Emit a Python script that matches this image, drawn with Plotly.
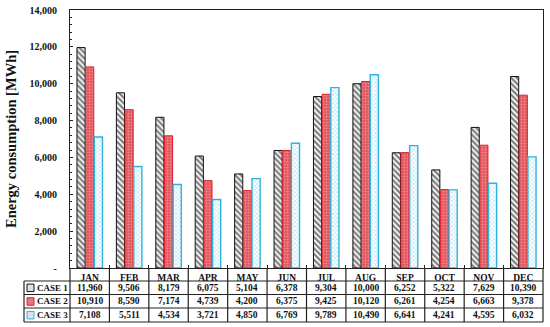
import plotly.graph_objects as go

months = ["JAN", "FEB", "MAR", "APR", "MAY", "JUN", "JUL", "AUG", "SEP", "OCT", "NOV", "DEC"]
case1 = [11960, 9506, 8179, 6075, 5104, 6378, 9304, 10000, 6252, 5322, 7629, 10390]
case2 = [10910, 8590, 7174, 4739, 4200, 6375, 9425, 10120, 6261, 4254, 6663, 9378]
case3 = [7108, 5511, 4534, 3721, 4850, 6769, 9789, 10490, 6641, 4241, 4595, 6032]
series_names = ["CASE 1", "CASE 2", "CASE 3"]
y_tickvals = [0, 2000, 4000, 6000, 8000, 10000, 12000, 14000]
y_ticktext = ["-", "2,000", "4,000", "6,000", "8,000", "10,000", "12,000", "14,000"]

FONT = "Liberation Serif"
W, H = 550, 327
ML, MR, MT, MB = 24, 7, 10, 5
PW = W - ML - MR
PH = H - MT - MB

def px_x(p):
    return (p - ML) / PW

def px_y(p):
    return (H - MB - p) / PH

x_dom0 = px_x(70)
y_dom0 = px_y(268)
row_lines = [px_y(281), px_y(294.5), px_y(308), 0.0]
row_centers = [px_y(287.8), px_y(301.3), px_y(315)]

styles = [
    dict(shape="\\", fg="#000000", bg="#ffffff", line="#111111", lw=1.0, size=4, sol=0.55),
    dict(shape=".", fg="#f7c0c0", bg="#e2555c", line="#e01e2a", lw=1.0, size=3, sol=0.35),
    dict(shape="x", fg="#6fcbea", bg="#ffffff", line="#2fb3de", lw=1.4, size=3, sol=0.45),
]

fig = go.Figure()
for name, vals, st in zip(series_names, [case1, case2, case3], styles):
    fig.add_trace(go.Bar(
        x=months, y=vals, name=name, showlegend=False,
        marker=dict(color=st["bg"],
                    line=dict(color=st["line"], width=st["lw"]),
                    pattern=dict(shape=st["shape"], fgcolor=st["fg"], bgcolor=st["bg"],
                                 size=st["size"], solidity=st["sol"], fillmode="overlay")),
    ))

# legend icons in the table's first column
fig.add_trace(go.Bar(
    x=[7, 7, 7], y=[0, 1, 2], base=[3, 3, 3], orientation="h", width=0.55,
    xaxis="x2", yaxis="y2", showlegend=False, hoverinfo="skip",
    marker=dict(color=[s["bg"] for s in styles],
                line=dict(color=[s["line"] for s in styles], width=1),
                pattern=dict(shape=[s["shape"] for s in styles],
                             fgcolor=[s["fg"] for s in styles],
                             bgcolor=[s["bg"] for s in styles],
                             size=2, solidity=0.45, fillmode="overlay")),
))

line_col = "#222222"
shapes = []
for yv in row_lines:
    shapes.append(dict(type="line", xref="paper", yref="paper", x0=0, x1=1, y0=yv, y1=yv,
                       line=dict(color=line_col, width=1.2)))
shapes.append(dict(type="line", xref="paper", yref="paper", x0=0, x1=0, y0=0, y1=row_lines[0],
                   line=dict(color=line_col, width=1.2)))
for xv in [x_dom0, 1]:
    shapes.append(dict(type="line", xref="paper", yref="paper", x0=xv, x1=xv, y0=0, y1=y_dom0,
                       line=dict(color=line_col, width=1.2)))
for i in range(len(months) - 1):
    shapes.append(dict(type="line", xref="x", yref="paper", x0=i + 0.5, x1=i + 0.5, y0=0, y1=y_dom0,
                       line=dict(color=line_col, width=1.2)))

TFS = 9.5
annotations = []
for r, vals in enumerate([case1, case2, case3]):
    for m, v in zip(months, vals):
        annotations.append(dict(xref="x", yref="paper", x=m, y=row_centers[r], text=f"<b>{v:,}</b>",
                                showarrow=False, font=dict(family=FONT, size=TFS, color="#111"),
                                xanchor="center", yanchor="middle"))
    annotations.append(dict(xref="paper", yref="paper", x=px_x(35.5), y=row_centers[r],
                            text=f"<b>{series_names[r]}</b>", showarrow=False,
                            font=dict(family=FONT, size=9, color="#111"),
                            xanchor="left", yanchor="middle", xshift=-1))

fig.update_layout(
    width=W, height=H,
    margin=dict(l=ML, r=MR, t=MT, b=MB),
    paper_bgcolor="white", plot_bgcolor="white",
    barmode="group", bargap=0.34, bargroupgap=0.06,
    font=dict(family=FONT, size=10, color="#111"),
    xaxis=dict(type="category", domain=[x_dom0, 1], anchor="y",
               showline=True, linecolor="#222", linewidth=1.2, mirror=True,
               ticks="inside", tickson="boundaries", ticklen=3, tickcolor="#222",
               tickfont=dict(family=FONT, size=TFS, color="#111"),
               ticklabelstandoff=0, showgrid=False, automargin=False,
               tickprefix="<b>", ticksuffix="</b>"),
    yaxis=dict(domain=[y_dom0, 1], range=[0, 14000], anchor="x",
               showline=True, linecolor="#222", linewidth=1.2, mirror=True,
               tickvals=y_tickvals, ticktext=[f"<b>{t}</b>" for t in y_ticktext],
               ticks="inside", ticklen=3, tickcolor="#222",
               minor=dict(dtick=400, ticks="inside", ticklen=2, tickcolor="#222"),
               tickfont=dict(family=FONT, size=10, color="#111"),
               ticklabelstandoff=10, showgrid=False, zeroline=False, automargin=False,
               title=dict(text="<b>Energy consumption [MWh]</b>",
                          font=dict(family=FONT, size=14.5, color="#111"), standoff=9)),
    xaxis2=dict(domain=[0, x_dom0], range=[0, 46], anchor="y2", visible=False, fixedrange=True),
    yaxis2=dict(domain=[0, row_lines[0]], range=[2.5, -0.5], anchor="x2", visible=False, fixedrange=True),
    shapes=shapes, annotations=annotations,
)

fig.write_html("out.html", config={"displayModeBar": False},
               post_script="document.body.style.margin='0';document.body.style.padding='0';")
